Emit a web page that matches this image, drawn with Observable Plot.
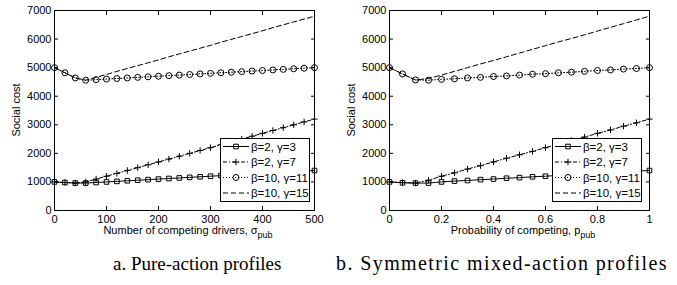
<!DOCTYPE html>
<html>
<head>
<meta charset="utf-8">
<script src="https://cdn.jsdelivr.net/npm/d3@7"></script>
<script src="https://cdn.jsdelivr.net/npm/@observablehq/plot@0.6"></script>
<style>
  html, body { margin: 0; padding: 0; background: #fff; }
  #wrap { position: relative; width: 677px; height: 285px; overflow: hidden; background: #fff; }
  .panel { position: absolute; top: 0; }
  #captions { position: absolute; left: 0; top: 0; }
</style>
</head>
<body>
<div id="wrap"></div>
<script>
// ---------- data ----------
const seriesLabels = ["β=2, γ=3", "β=2, γ=7", "β=10, γ=11", "β=10, γ=15"];

// a. Pure-action profiles: number of competing drivers
const pureX = [0,20,40,60,80,100,120,140,160,180,200,220,240,260,280,300,320,340,360,380,400,420,440,460,480,500];
const pureB2G3  = [1000,980,960,960,980,1000,1020,1040,1060,1080,1100,1120,1140,1160,1180,1200,1220,1240,1260,1280,1300,1320,1340,1360,1380,1400];
const pureB2G7  = [1000,980,960,1000,1100,1200,1300,1400,1500,1600,1700,1800,1900,2000,2100,2200,2300,2400,2500,2600,2700,2800,2900,3000,3100,3200];
const pureB10G11 = [5000,4820,4640,4560,4580,4600,4620,4640,4660,4680,4700,4720,4740,4760,4780,4800,4820,4840,4860,4880,4900,4920,4940,4960,4980,5000];
const pureB10G15 = [5000,4820,4640,4560,4660,4760,4870,4970,5070,5170,5270,5380,5480,5580,5680,5780,5890,5990,6090,6190,6290,6400,6500,6600,6700,6800];

// b. Symmetric mixed-action profiles: probability of competing
const mixedX = [0,0.05,0.1,0.15,0.2,0.25,0.3,0.35,0.4,0.45,0.5,0.55,0.6,0.65,0.7,0.75,0.8,0.85,0.9,0.95,1];
const mixedB2G3  = [1000,970,960,960,1000,1030,1050,1080,1100,1130,1150,1180,1200,1230,1250,1280,1300,1330,1350,1380,1400];
const mixedB2G7  = [1000,980,960,1060,1200,1320,1450,1570,1700,1830,1950,2070,2200,2320,2450,2570,2700,2820,2950,3070,3200];
const mixedB10G11 = [5000,4780,4570,4560,4590,4610,4640,4660,4690,4710,4740,4770,4790,4820,4840,4870,4900,4920,4950,4970,5000];
const mixedB10G15 = [5000,4780,4570,4620,4740,4870,5000,5130,5250,5380,5510,5640,5770,5900,6020,6150,6280,6410,6540,6670,6800];

const pureXTicks = [0,100,200,300,400,500];
const mixedXTicks = [0,0.2,0.4,0.6,0.8,1];
const yTicks = [0,1000,2000,3000,4000,5000,6000,7000];
const yLabel = "Social cost";
const captions = ["a. Pure-action profiles", "b. Symmetric mixed-action profiles"];

// ---------- styles ----------
const styles = [
  {dash: null,      symbol: "square", r: 2.6},
  {dash: "4,2,1,2", symbol: "plus",   r: 2.2},
  {dash: "1,2",     symbol: "circle", r: 3},
  {dash: "5,3",     symbol: null,     r: 0}
];
const FONT = "'Liberation Sans', Arial, Helvetica, sans-serif";
const fmt = d => String(d);

function makePanel(cfg) {
  const {xs, ys, xDomain, xTicks, width, marginLeft, marginRight, xTitle, xSub, legendGap} = cfg;
  const H = 250, mt = 10, mb = 40;
  const series = ys.map(arr => arr.map((v, j) => ({x: xs[j], y: v})));
  const marks = [];
  series.forEach((d, i) => marks.push(Plot.line(d, {x: "x", y: "y", stroke: "black", strokeWidth: 1, strokeDasharray: styles[i].dash})));
  series.forEach((d, i) => { if (styles[i].symbol) marks.push(Plot.dot(d, {x: "x", y: "y", symbol: styles[i].symbol, r: styles[i].r, stroke: "black", fill: "none", strokeWidth: 1})); });
  marks.push(
    Plot.frame({stroke: "black", strokeWidth: 1}),
    Plot.axisX({ticks: xTicks, tickSize: -4, tickPadding: 9, tickFormat: fmt, label: null}),
    Plot.axisX({anchor: "top", ticks: xTicks, tickSize: -4, tickFormat: () => "", label: null}),
    Plot.axisY({ticks: yTicks, tickSize: -4, tickPadding: 7, tickFormat: fmt, label: null}),
    Plot.axisY({anchor: "right", ticks: yTicks, tickSize: -4, tickFormat: () => "", label: null})
  );
  const svg = Plot.plot({
    width, height: H, marginLeft, marginRight, marginTop: mt, marginBottom: mb,
    x: {domain: xDomain}, y: {domain: [0, 7000]},
    style: {fontFamily: FONT, fontSize: "11px", background: "white", color: "black", overflow: "visible"},
    marks
  });
  const s = d3.select(svg);
  const fx0 = marginLeft, fx1 = width - marginRight, fy0 = mt, fy1 = H - mb;
  // x title with subscript
  const xt = s.append("text").attr("x", (fx0 + fx1) / 2 + 4).attr("y", 234)
    .attr("text-anchor", "middle").attr("font-family", FONT).attr("font-size", 11).attr("fill", "black");
  xt.append("tspan").text(xTitle);
  xt.append("tspan").attr("dy", 4).attr("font-size", 9).text(xSub);
  // y title
  s.append("text").attr("transform", `translate(${fx0 - 37},${(fy0 + fy1) / 2}) rotate(-90)`)
    .attr("text-anchor", "middle").attr("dominant-baseline", "middle")
    .attr("font-family", FONT).attr("font-size", 11).attr("fill", "black").text(yLabel);
  // legend
  const bw = 89, bh = 63;
  const bx = fx1 - legendGap - bw, by = fy1 - 9 - bh;
  const g = s.append("g").attr("text-anchor", "start");
  g.append("rect").attr("x", bx + 0.5).attr("y", by + 0.5).attr("width", bw).attr("height", bh)
    .attr("fill", "white").attr("stroke", "black").attr("stroke-width", 1);
  const rowY = [8.5, 24, 39.5, 55];
  seriesLabels.forEach((lab, i) => {
    const yy = by + rowY[i];
    g.append("line").attr("x1", bx + 3).attr("x2", bx + 29).attr("y1", yy).attr("y2", yy)
      .attr("stroke", "black").attr("stroke-width", 1).attr("stroke-dasharray", styles[i].dash);
    if (styles[i].symbol) {
      const sym = {square: d3.symbolSquare, plus: d3.symbolPlus, circle: d3.symbolCircle}[styles[i].symbol];
      g.append("path").attr("d", d3.symbol(sym, Math.PI * styles[i].r * styles[i].r)())
        .attr("transform", `translate(${bx + 16},${yy})`).attr("fill", "none").attr("stroke", "black").attr("stroke-width", 1);
    }
    g.append("text").attr("x", bx + 31).attr("y", yy).attr("dy", "0.35em").attr("text-anchor", "start")
      .attr("font-family", FONT).attr("font-size", 11.5).attr("fill", "black").text(lab);
  });
  return svg;
}

const wrap = document.getElementById("wrap");
const left = makePanel({xs: pureX, ys: [pureB2G3, pureB2G7, pureB10G11, pureB10G15], xDomain: [0, 500], xTicks: pureXTicks,
  width: 337, marginLeft: 54, marginRight: 23, xTitle: "Number of competing drivers, σ", xSub: "pub", legendGap: 5});
const right = makePanel({xs: mixedX, ys: [mixedB2G3, mixedB2G7, mixedB10G11, mixedB10G15], xDomain: [0, 1], xTicks: mixedXTicks,
  width: 340, marginLeft: 52, marginRight: 28, xTitle: "Probability of competing, p", xSub: "pub", legendGap: 8});
left.classList.add("panel"); left.style.left = "0px";
right.classList.add("panel"); right.style.left = "337px";
wrap.appendChild(left); wrap.appendChild(right);

// captions
const cap = d3.select(wrap).append("svg").attr("id", "captions").attr("width", 677).attr("height", 285);
const capPos = [[113, "start", 19, 0], [668, "end", 20, 1.4]];
captions.forEach((t, i) => {
  cap.append("text").attr("x", capPos[i][0]).attr("y", 270).attr("text-anchor", capPos[i][1])
    .attr("font-family", "'Liberation Serif', 'DejaVu Serif', serif").attr("font-size", capPos[i][2])
    .attr("letter-spacing", capPos[i][3])
    .attr("fill", "black").text(t);
});
</script>
</body>
</html>
